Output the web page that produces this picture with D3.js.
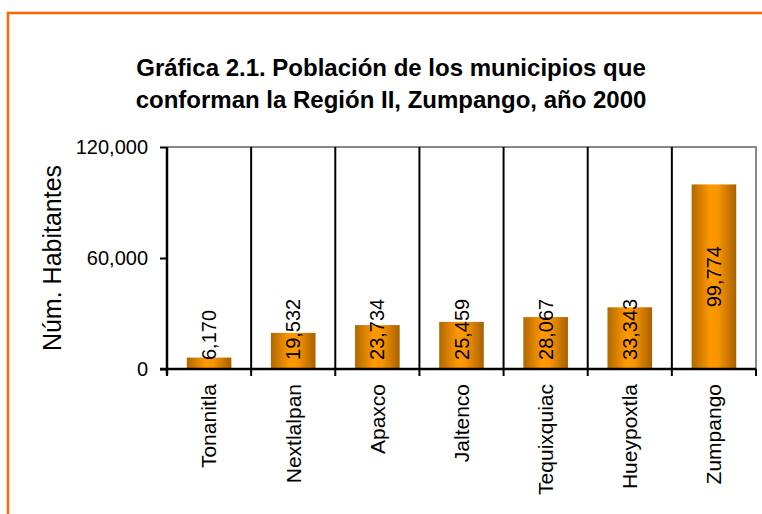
<!DOCTYPE html>
<html>
<head>
<meta charset="utf-8">
<script src="https://cdn.jsdelivr.net/npm/d3@7"></script>
<style>
  body { margin: 0; background: #fff; }
  svg { display: block; font-family: "Liberation Sans", Arial, sans-serif; }
</style>
</head>
<body>
<div id="chart"></div>
<script>

var municipios = ["Tonanitla", "Nextlalpan", "Apaxco", "Jaltenco", "Tequixquiac", "Hueypoxtla", "Zumpango"];
var habitantes = [6170, 19532, 23734, 25459, 28067, 33343, 99774];
var yTicks = [0, 60000, 120000];
var titulo = ["Gráfica 2.1. Población de los municipios que", "conforman la Región II, Zumpango, año 2000"];
var yTitulo = "Núm. Habitantes";

var width = 762;
var height = 514;
var margin = {top: 147, right: 6, bottom: 145, left: 167};

var svg = d3.select("#chart")
  .append("svg")
  .attr("width", width)
  .attr("height", height);

// orange frame (only top and left show in the window)
svg.append("rect")
  .attr("x", 8)
  .attr("y", 13)
  .attr("width", 900)
  .attr("height", 700)
  .attr("fill", "none")
  .attr("stroke", "#ff6600")
  .attr("stroke-width", 2.5);

svg.selectAll(".titulo")
  .data(titulo)
  .enter()
  .append("text")
  .attr("class", "titulo")
  .attr("x", 391)
  .attr("y", function(d, i) { return 76 + i * 32; })
  .attr("text-anchor", "middle")
  .style("font-weight", "bold")
  .style("font-size", "24px")
  .text(function(d) { return d; });

var defs = svg.append("defs");
var grad = defs.append("linearGradient")
  .attr("id", "barra")
  .attr("x1", "0%").attr("x2", "100%")
  .attr("y1", "0%").attr("y2", "0%");
grad.append("stop").attr("offset", "0%").attr("stop-color", "#b06800");
grad.append("stop").attr("offset", "42%").attr("stop-color", "#ff9900");
grad.append("stop").attr("offset", "60%").attr("stop-color", "#f89400");
grad.append("stop").attr("offset", "100%").attr("stop-color", "#a86000");

var w = width - margin.left - margin.right;
var h = height - margin.top - margin.bottom;

var g = svg.append("g")
  .attr("transform", "translate(" + margin.left + "," + margin.top + ")");

var xScale = d3.scaleBand()
  .domain(municipios)
  .range([0, w])
  .paddingInner(0.47)
  .paddingOuter(0.235);

var yScale = d3.scaleLinear()
  .domain([0, 120000])
  .range([h, 0]);

var step = xScale.step();

// plot area border: top and right in grey
g.append("path")
  .attr("d", "M0,0H" + w + "V" + h)
  .attr("fill", "none")
  .attr("stroke", "#888")
  .attr("stroke-width", 2);

// black separators between categories
g.selectAll(".sep")
  .data(municipios.slice(1))
  .enter()
  .append("line")
  .attr("class", "sep")
  .attr("x1", function(d) { return xScale(d) - xScale.paddingOuter() * step; })
  .attr("x2", function(d) { return xScale(d) - xScale.paddingOuter() * step; })
  .attr("y1", 0)
  .attr("y2", h)
  .attr("stroke", "#000")
  .attr("stroke-width", 2);

g.selectAll(".bar")
  .data(habitantes)
  .enter()
  .append("rect")
  .attr("class", "bar")
  .attr("x", function(d, i) { return xScale(municipios[i]); })
  .attr("y", function(d) { return yScale(d); })
  .attr("width", xScale.bandwidth())
  .attr("height", function(d) { return h - yScale(d); })
  .attr("fill", "url(#barra)");

// y axis
var yAxis = g.append("g")
  .attr("class", "axis axis--y")
  .call(d3.axisLeft(yScale).tickValues(yTicks).tickSize(7).tickPadding(12).tickFormat(d3.format(",")));
yAxis.select(".domain").remove();
yAxis.selectAll("line").attr("stroke", "#000").attr("stroke-width", 2);
yAxis.selectAll("text").style("font-size", "20px").attr("fill", "#000");
g.append("line")
  .attr("x1", 0).attr("x2", 0)
  .attr("y1", 0).attr("y2", h + 6)
  .attr("stroke", "#000").attr("stroke-width", 2.5);

// x axis with ticks at category boundaries
var xg = g.append("g")
  .attr("transform", "translate(0," + h + ")");
xg.append("line")
  .attr("x1", -7).attr("x2", w)
  .attr("stroke", "#000").attr("stroke-width", 2.5);
xg.selectAll(".xtick")
  .data(d3.range(municipios.length + 1))
  .enter()
  .append("line")
  .attr("x1", function(i) { return i * step; })
  .attr("x2", function(i) { return i * step; })
  .attr("y1", 0).attr("y2", 7)
  .attr("stroke", "#000").attr("stroke-width", 2);

xg.selectAll(".cat")
  .data(municipios)
  .enter()
  .append("text")
  .attr("class", "cat")
  .attr("transform", function(d) {
    return "translate(" + (xScale(d) + xScale.bandwidth() / 2) + ",15) rotate(-90)";
  })
  .attr("dy", "0.35em")
  .attr("text-anchor", "end")
  .style("font-size", "21px")
  .text(function(d) { return d; });

// value labels, centered in the bar but kept above the axis
var fmt = d3.format(",");
g.selectAll(".valor")
  .data(habitantes)
  .enter()
  .append("text")
  .attr("class", "valor")
  .attr("text-anchor", "middle")
  .attr("dy", "0.35em")
  .style("font-size", "20px")
  .text(function(d) { return fmt(d); })
  .attr("transform", function(d, i) {
    var len = this.getComputedTextLength();
    var cy = (yScale(d) + h) / 2;
    if (cy + len / 2 > h - 9) cy = h - 9 - len / 2;
    var cx = xScale(municipios[i]) + xScale.bandwidth() / 2;
    return "translate(" + cx + "," + cy + ") rotate(-90)";
  });

svg.append("text")
  .attr("transform", "translate(61," + (margin.top + h / 2) + ") rotate(-90)")
  .attr("text-anchor", "middle")
  .style("font-size", "25px")
  .text(yTitulo);

</script>
</body>
</html>
